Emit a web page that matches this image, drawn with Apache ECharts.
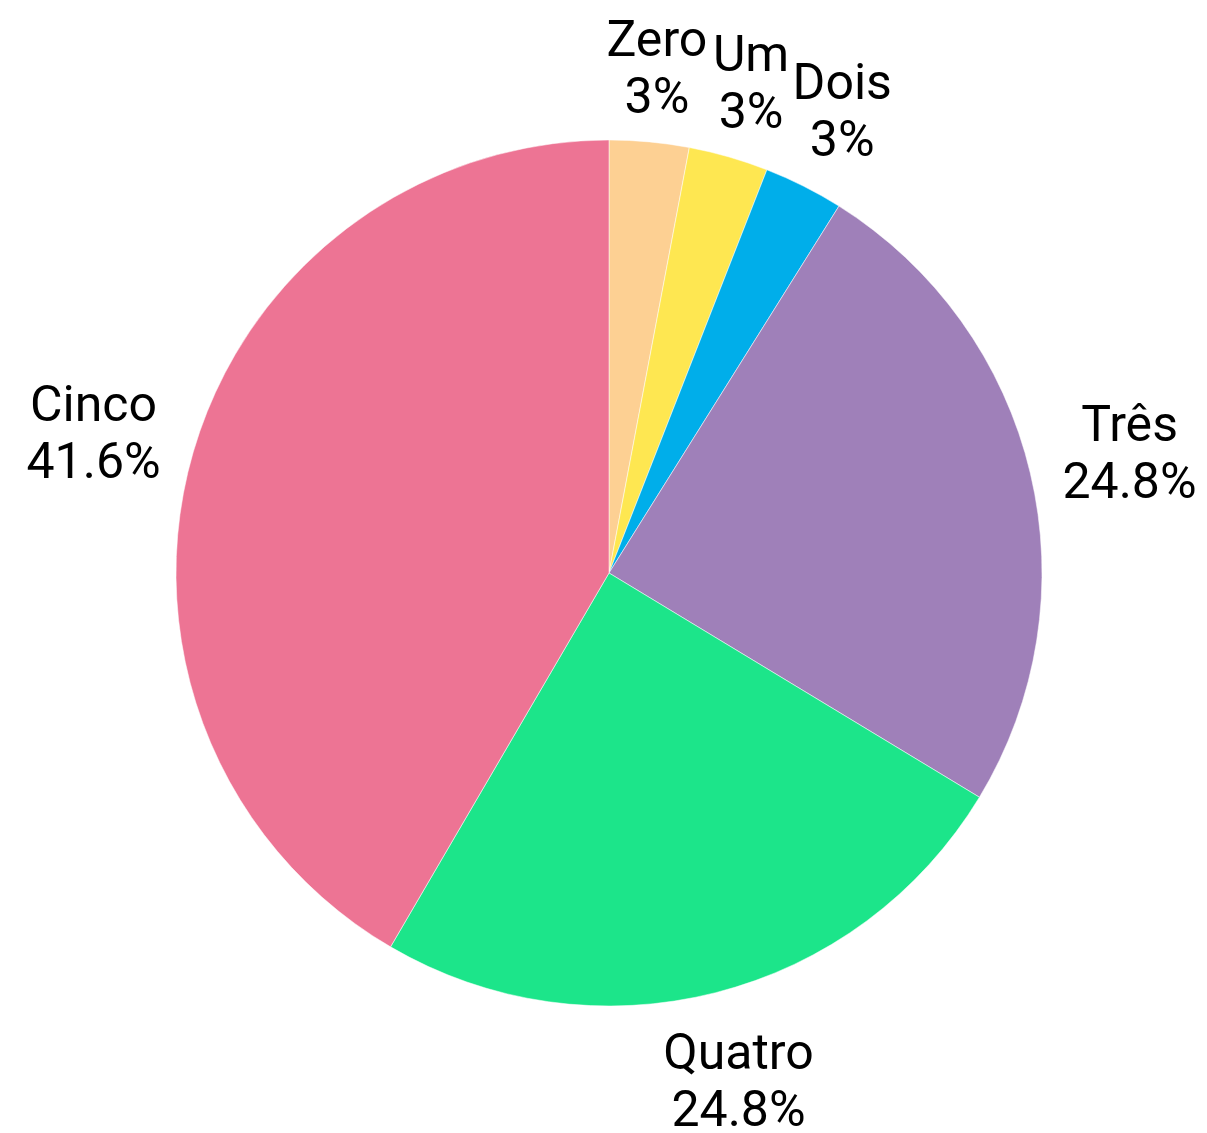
<!DOCTYPE html>
<html>
<head>
<meta charset="utf-8">
<script src="https://cdn.jsdelivr.net/npm/echarts@6/dist/echarts.min.js"></script>
<style>
  html, body { margin: 0; padding: 0; background: #fff; }
  #pieChart { width: 1207px; height: 1133px; }
</style>
</head>
<body>
<div id="pieChart"></div>
<script>
// data
const names = ['Zero', 'Um', 'Dois', 'Três', 'Quatro', 'Cinco'];
const values = [3, 3, 3, 25, 25, 42];
const colors = ['#FDD093', '#FEE751', '#00AEEA', '#9F80B9', '#1CE58A', '#ED7494'];
// which slices get the nearer label ring
const smallSlices = ['Zero', 'Um', 'Dois'];
// small label nudges [dx, dy] in px
const nudge = {
  'Zero': [0, 11], 'Um': [0, 8], 'Dois': [2, 1],
  'Três': [1, 7], 'Quatro': [-2, -6], 'Cinco': [0, 4]
};

const total = values.reduce((a, b) => a + b, 0);
function pct(v) {
  return Math.round(v / total * 1000) / 10 + '%';
}

const chartDom = document.getElementById('pieChart');
const myChart = echarts.init(chartDom);

const labelStyle = {
  show: true,
  position: 'inside',
  color: '#000',
  fontFamily: 'Roboto',
  fontSize: 50,
  lineHeight: 57,
  formatter: p => p.name + '\n' + pct(p.value)
};

// transparent helper ring that only carries labels
function labelSeries(radius, group, inGroup) {
  return {
    type: 'pie',
    center: [609, 573],
    radius: [0, radius],
    startAngle: 90,
    clockwise: true,
    silent: true,
    animation: false,
    avoidLabelOverlap: false,
    z: 3,
    itemStyle: { color: 'rgba(0,0,0,0)', borderWidth: 0 },
    label: labelStyle,
    labelLine: { show: false },
    labelLayout: p => {
      const d = nudge[names[p.dataIndex]] || [0, 0];
      return { dx: d[0], dy: d[1], hideOverlap: false };
    },
    data: names.map((n, i) => ({
      name: n,
      value: values[i],
      label: { show: group.includes(n) === inGroup }
    }))
  };
}

const option = {
  animation: false,
  series: [
    {
      type: 'pie',
      center: [609, 573],
      radius: [0, 433],
      startAngle: 90,
      clockwise: true,
      label: { show: false },
      labelLine: { show: false },
      itemStyle: { borderColor: '#fff', borderWidth: 0.5 },
      data: names.map((n, i) => ({
        name: n,
        value: values[i],
        itemStyle: { color: colors[i] }
      }))
    },
    labelSeries(1022, smallSlices, true),
    labelSeries(1062, smallSlices, false)
  ]
};
option && myChart.setOption(option);
</script>
</body>
</html>
